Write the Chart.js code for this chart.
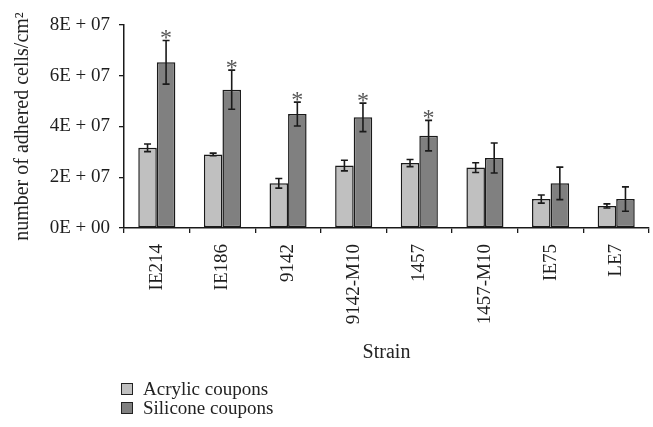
<!DOCTYPE html>
<html>
<head>
<meta charset="utf-8">
<script src="https://cdn.jsdelivr.net/npm/chart.js@4.4.1/dist/chart.umd.min.js"></script>
<style>
  html, body { margin: 0; padding: 0; background: #fff; }
  #wrap { position: relative; width: 653px; height: 427px; }
  #legend { position: absolute; left: 121px; top: 379px; font-family: "Liberation Serif", serif; font-size: 19px; color: #222; }
  .item { display: flex; align-items: center; height: 19.5px; }
  .box { width: 10px; height: 10px; border: 1px solid #222; margin-right: 10px; }
</style>
</head>
<body>
<div id="wrap">
  <canvas id="c" width="653" height="427"></canvas>
  <div id="legend"></div>
</div>
<script>
const categories = ['IE214', 'IE186', '9142', '9142-M10', '1457', '1457-M10', 'IE75', 'LE7'];
const acrylic = [3.16e7, 2.90e7, 1.76e7, 2.46e7, 2.56e7, 2.38e7, 1.14e7, 0.87e7];
const acrylicErr = [0.15e7, 0.05e7, 0.19e7, 0.21e7, 0.14e7, 0.19e7, 0.16e7, 0.08e7];
const silicone = [6.53e7, 5.45e7, 4.49e7, 4.36e7, 3.64e7, 2.76e7, 1.76e7, 1.14e7];
const siliconeErr = [0.86e7, 0.77e7, 0.47e7, 0.56e7, 0.60e7, 0.59e7, 0.64e7, 0.48e7];
const significant = [true, true, true, true, true, false, false, false];
const yTickValues = [0, 2e7, 4e7, 6e7, 8e7];
const yTickLabels = ['0E + 00', '2E + 07', '4E + 07', '6E + 07', '8E + 07'];
const seriesNames = ['Acrylic coupons', 'Silicone coupons'];
const seriesColors = ['#c0c0c0', '#808080'];

const FONT = '"Liberation Serif", "Times New Roman", serif';

const errorBars = {
  id: 'errorBars',
  afterDatasetsDraw(chart) {
    const ctx = chart.ctx;
    const ys = chart.scales.y;
    const errs = [acrylicErr, siliconeErr];
    ctx.save();
    ctx.strokeStyle = '#1a1a1a';
    ctx.lineWidth = 1.6;
    chart.data.datasets.forEach((ds, i) => {
      const meta = chart.getDatasetMeta(i);
      meta.data.forEach((bar, j) => {
        const v = ds.data[j], e = errs[i][j];
        const x = bar.x;
        const yt = ys.getPixelForValue(v + e);
        const yb = ys.getPixelForValue(v - e);
        const cw = 3.5;
        ctx.beginPath();
        ctx.moveTo(x, yt); ctx.lineTo(x, yb);
        ctx.moveTo(x - cw, yt); ctx.lineTo(x + cw, yt);
        ctx.moveTo(x - cw, yb); ctx.lineTo(x + cw, yb);
        ctx.stroke();
        if (i === 1 && significant[j]) {
          ctx.fillStyle = '#555';
          ctx.font = '24px ' + FONT;
          ctx.textAlign = 'center';
          ctx.textBaseline = 'alphabetic';
          ctx.fillText('*', x, yt + 5);
        }
      });
    });
    ctx.restore();
  }
};

new Chart(document.getElementById('c'), {
  type: 'bar',
  data: {
    labels: categories,
    datasets: [
      { label: seriesNames[0], data: acrylic, backgroundColor: seriesColors[0] },
      { label: seriesNames[1], data: silicone, backgroundColor: seriesColors[1] }
    ]
  },
  options: {
    responsive: false,
    animation: false,
    devicePixelRatio: 1,
    layout: { padding: { top: 25, right: 4, bottom: 62, left: 0 } },
    datasets: {
      bar: {
        categoryPercentage: 0.565,
        barPercentage: 1.0,
        borderColor: '#1a1a1a',
        borderWidth: 1.5,
        borderSkipped: false
      }
    },
    plugins: {
      legend: { display: false },
      tooltip: { enabled: false }
    },
    scales: {
      x: {
        afterFit(s) { s.height = 137; },
        grid: { display: true, drawOnChartArea: false, drawTicks: true, tickLength: 5, color: '#1a1a1a', lineWidth: 1.3, offset: true },
        border: { display: true, color: '#1a1a1a', width: 1.5 },
        ticks: { minRotation: 90, maxRotation: 90, padding: 11, color: '#1e1e1e', font: { family: FONT, size: 19 }, autoSkip: false },
        title: { display: true, text: 'Strain', color: '#222', font: { family: FONT, size: 20 }, padding: { top: 0, bottom: 0 } }
      },
      y: {
        min: 0, max: 8e7,
        afterFit(s) { s.width = 124; },
        afterBuildTicks(s) { s.ticks = yTickValues.map(v => ({ value: v })); },
        grid: { display: true, drawOnChartArea: false, drawTicks: true, tickLength: 5, color: '#1a1a1a', lineWidth: 1.3 },
        border: { display: true, color: '#1a1a1a', width: 1.5 },
        ticks: {
          padding: 9, color: '#1e1e1e', font: { family: FONT, size: 19 },
          callback(v, i) { return yTickLabels[yTickValues.indexOf(v)]; }
        },
        title: { display: true, text: 'number of adhered cells/cm²', color: '#222', font: { family: FONT, size: 20 }, padding: { top: 11, bottom: 0 } }
      }
    }
  },
  plugins: [errorBars]
});

const lg = document.getElementById('legend');
seriesNames.forEach((n, i) => {
  const it = document.createElement('div');
  it.className = 'item';
  const b = document.createElement('span');
  b.className = 'box';
  b.style.background = seriesColors[i];
  const t = document.createElement('span');
  t.textContent = n;
  it.appendChild(b); it.appendChild(t);
  lg.appendChild(it);
});
</script>
</body>
</html>
